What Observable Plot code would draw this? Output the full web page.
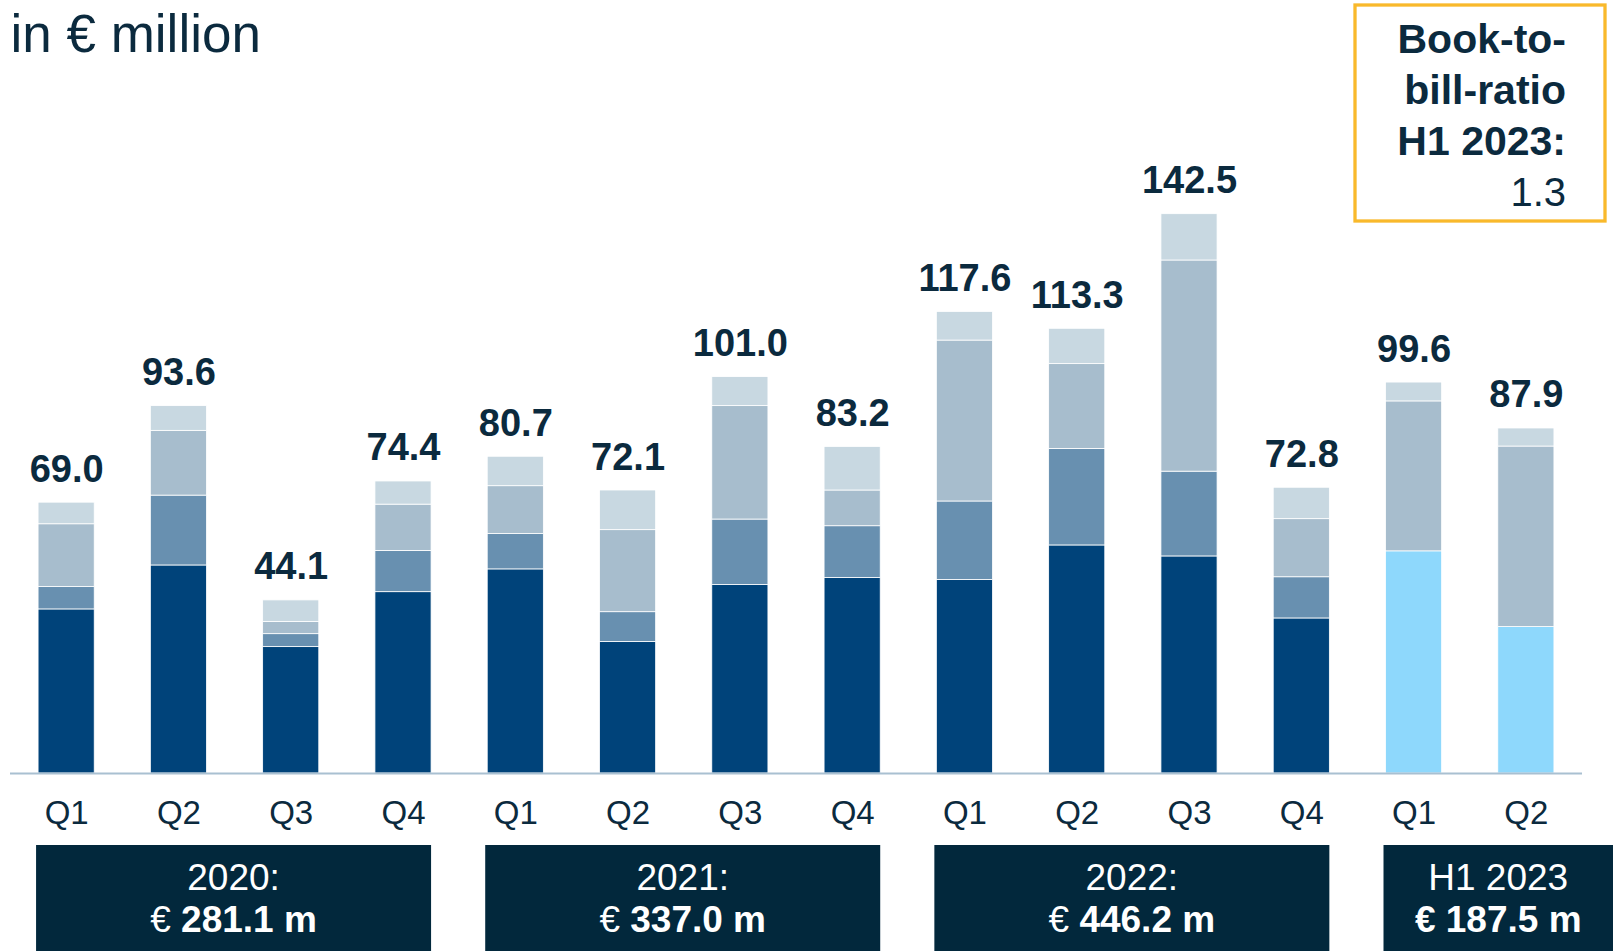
<!DOCTYPE html>
<html><head><meta charset="utf-8">
<script src="https://cdn.jsdelivr.net/npm/d3@7"></script>
<script src="https://cdn.jsdelivr.net/npm/@observablehq/plot@0.6"></script>
<style>
html,body{margin:0;padding:0;background:#fff;}
#chart{width:1613px;height:951px;}
</style></head><body><div id="chart"></div>
<script>
// ---- data ----
const quarters = ["2020 Q1","2020 Q2","2020 Q3","2020 Q4","2021 Q1","2021 Q2","2021 Q3","2021 Q4","2022 Q1","2022 Q2","2022 Q3","2022 Q4","2023 Q1","2023 Q2"];
const quarterLabels = ["Q1","Q2","Q3","Q4","Q1","Q2","Q3","Q4","Q1","Q2","Q3","Q4","Q1","Q2"];
const seriesNames = ["dark","bright","mid","midLight","light"];
const valuesDark     = [41.8, 53.0, 32.2, 46.2, 52.0, 33.5, 48.0, 49.8, 49.3, 58.1, 55.3, 39.5, 0, 0];
const valuesBright   = [0, 0, 0, 0, 0, 0, 0, 0, 0, 0, 0, 0, 56.6, 37.3];
const valuesMid      = [5.7, 17.8, 3.3, 10.5, 9.0, 7.6, 16.7, 13.2, 20.0, 24.6, 21.6, 10.5, 0, 0];
const valuesMidLight = [16.0, 16.5, 3.1, 11.8, 12.2, 20.9, 28.9, 9.1, 41.0, 21.6, 53.8, 14.8, 38.2, 46.0];
const valuesLight    = [5.5, 6.3, 5.5, 5.9, 7.5, 10.1, 7.4, 11.1, 7.3, 9.0, 11.8, 8.0, 4.8, 4.6];
const totals         = [69.0, 93.6, 44.1, 74.4, 80.7, 72.1, 101.0, 83.2, 117.6, 113.3, 142.5, 72.8, 99.6, 87.9];

const groupLabels   = ["2020:", "2021:", "2022:", "H1 2023"];
const groupAmounts  = ["281.1 m", "337.0 m", "446.2 m", "187.5 m"];
const groupEuroBold = [false, false, false, true];
const groupFirst    = ["2020 Q1", "2021 Q1", "2022 Q1", "2023 Q1"];
const groupLast     = ["2020 Q4", "2021 Q4", "2022 Q4", "2023 Q2"];

const ratioLines = ["Book-to-", "bill-ratio", "H1 2023:"];
const ratioValue = "1.3";
const titleText = "in € million";

// ---- styling ----
const colors = {dark:"#00437a", bright:"#8ed8fc", mid:"#6890b0", midLight:"#a7bdcd", light:"#c8d8e1"};
const TEXT = "#0b2a3e";
const BOX = "#02283c";
const GOLD = "#f9b92b";
const FONT = "'Liberation Sans', Arial, Helvetica, sans-serif";

const seriesValues = {dark: valuesDark, bright: valuesBright, mid: valuesMid, midLight: valuesMidLight, light: valuesLight};
const rows = [];
quarters.forEach((q, i) => {
  seriesNames.forEach(s => {
    const v = seriesValues[s][i];
    if (v > 0) rows.push({quarter: q, series: s, value: v});
  });
});
const labelOf = new Map(quarters.map((q, i) => [q, quarterLabels[i]]));

const W = 1613, H = 951, baseY = 773, pxPerUnit = 3.925;

const chart = Plot.plot({
  width: W, height: H,
  marginLeft: 10, marginRight: 31, marginTop: 0, marginBottom: H - baseY,
  style: {fontFamily: FONT, background: "#fff", color: TEXT, overflow: "visible"},
  x: {type: "band", domain: quarters, paddingInner: 0.5, paddingOuter: 0.25, align: 0.5, round: false, label: null},
  y: {domain: [0, 150], range: [baseY, baseY - 150 * pxPerUnit], axis: null},
  color: {domain: seriesNames, range: seriesNames.map(s => colors[s])},
  marks: [
    Plot.barY(rows, {x: "quarter", y: "value", fill: "series", order: seriesNames, stroke: "#ffffff", strokeWidth: 0.8}),
    Plot.ruleY([0], {stroke: "#a9c0d1", strokeWidth: 2}),
    Plot.text(quarters, {x: d => d, y: (d, i) => totals[i], text: (d, i) => totals[i].toFixed(1),
      dy: -21, lineAnchor: "bottom", fontSize: 38, fontWeight: "bold", fill: TEXT}),
    Plot.axisX({tickSize: 0, tickPadding: 27, fontSize: 33, tickFormat: q => labelOf.get(q), label: null}),
    Plot.text([titleText], {frameAnchor: "top-left", textAnchor: "start", lineAnchor: "bottom", dy: 51, fontSize: 53, fill: TEXT})
  ]
});
document.getElementById("chart").appendChild(chart);

const svg = d3.select(chart);

// ---- year boxes under the axis ----
const xs = chart.scale("x");
const boxTop = baseY + 72;
const g = svg.append("g").attr("font-family", FONT);
groupLabels.forEach((lab, i) => {
  const x0 = xs.apply(groupFirst[i]) - 2;
  const x1 = i === groupLabels.length - 1 ? W : xs.apply(groupLast[i]) + xs.bandwidth;
  const cx = (x0 + x1) / 2;
  g.append("rect").attr("x", x0).attr("y", boxTop).attr("width", x1 - x0).attr("height", H - boxTop).attr("fill", BOX);
  g.append("text").attr("x", cx).attr("y", boxTop + 45)
    .attr("text-anchor", "middle").attr("fill", "#fff").attr("font-size", 37).text(lab);
  const t2 = g.append("text").attr("x", cx).attr("y", boxTop + 87)
    .attr("text-anchor", "middle").attr("fill", "#fff").attr("font-size", 37);
  t2.append("tspan").attr("font-weight", groupEuroBold[i] ? "bold" : "normal").text("€ ");
  t2.append("tspan").attr("font-weight", "bold").text(groupAmounts[i]);
});

// ---- book-to-bill box ----
const bx = svg.append("g").attr("font-family", FONT);
bx.append("rect").attr("x", 1355).attr("y", 5).attr("width", 250).attr("height", 216)
  .attr("fill", "#fff").attr("stroke", GOLD).attr("stroke-width", 3.3);
ratioLines.forEach((line, i) => {
  bx.append("text").attr("x", 1566).attr("y", 53 + i * 51)
    .attr("text-anchor", "end").attr("font-weight", "bold").attr("font-size", 41).attr("fill", TEXT).text(line);
});
bx.append("text").attr("x", 1566).attr("y", 53 + 3 * 51)
  .attr("text-anchor", "end").attr("font-size", 40).attr("fill", TEXT).text(ratioValue);
</script>
</body></html>
